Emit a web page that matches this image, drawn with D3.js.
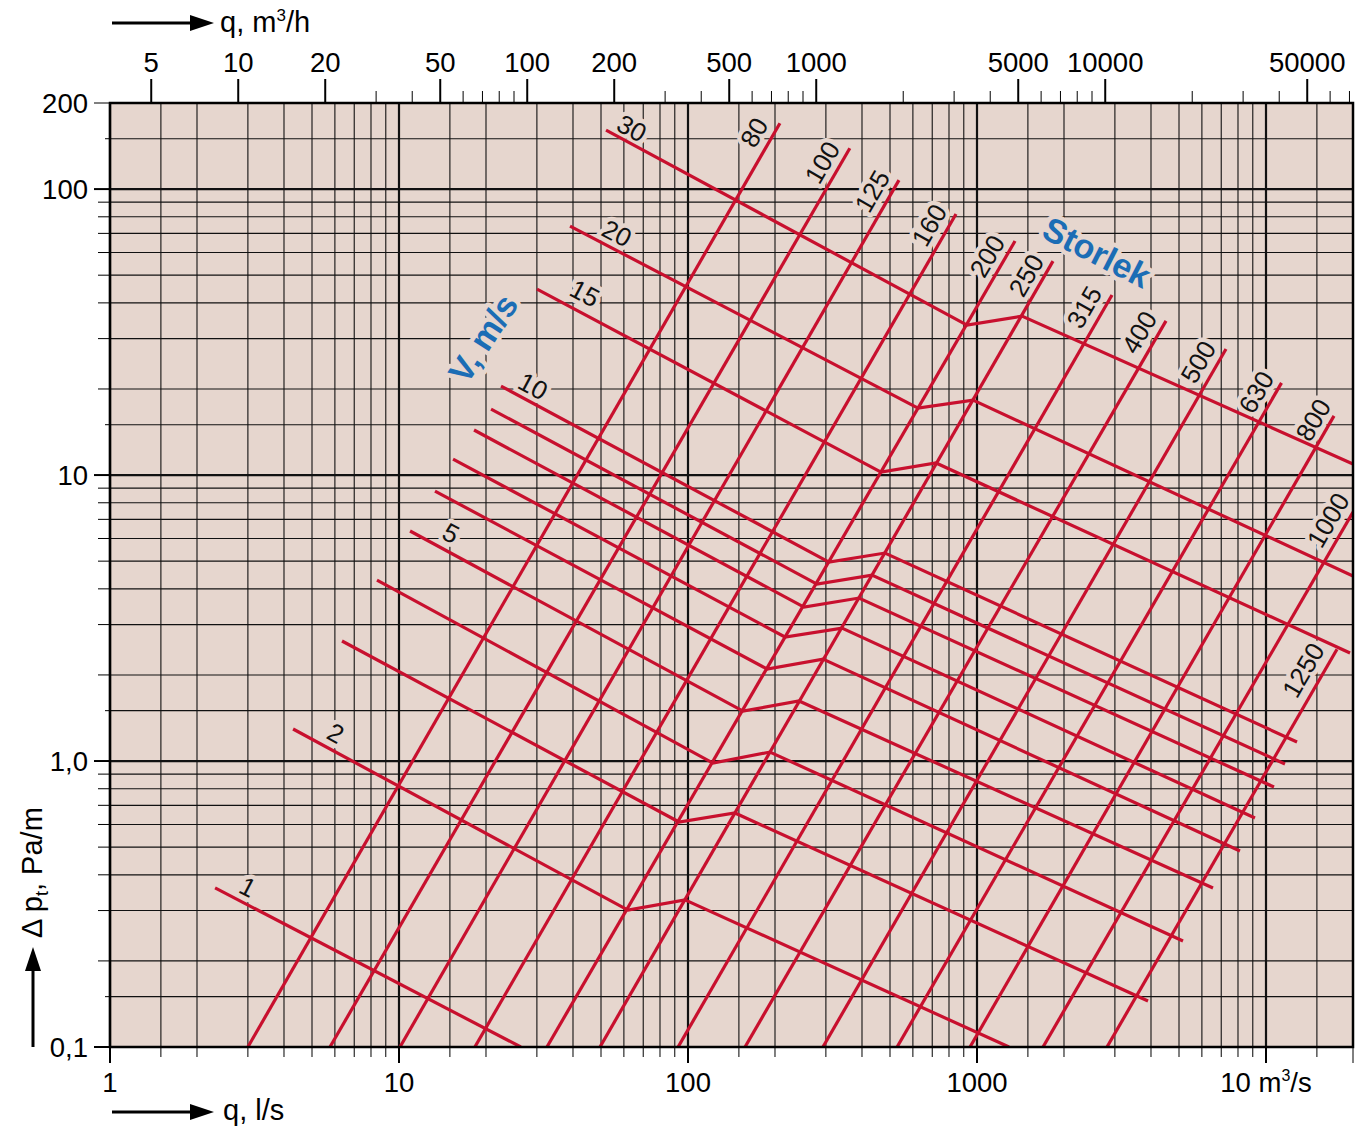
<!DOCTYPE html>
<html>
<head>
<meta charset="utf-8">
<script src="https://cdn.jsdelivr.net/npm/d3@7"></script>
<style>
body { margin: 0; background: #fff; }
svg { display: block; font-family: "Liberation Sans", Arial, Helvetica, sans-serif; }
</style>
</head>
<body>
<svg id="chart"></svg>
<script>

// q in l/s, pressure drop in Pa/m

var sizes = [80, 100, 125, 160, 200, 250, 315, 400, 500, 630, 800, 1000, 1250];
var sizeLines = [
    [[3.0, 0.1], [208, 170]],
    [[5.77, 0.1], [363, 139]],
    [[10.08, 0.1], [537, 107.5]],
    [[18.3, 0.1], [846, 81.8]],
    [[32.5, 0.1], [1354, 65.8]],
    [[49.6, 0.1], [1832, 56.0]],
    [[92.4, 0.1], [2932, 42.6]],
    [[157.5, 0.1], [4508, 34.6]],
    [[293, 0.1], [7271, 27.6]],
    [[529, 0.1], [11315, 21.0]],
    [[946, 0.1], [17190, 16.1]],
    [[1692, 0.1], [20000, 7.42]],
    [[2817, 0.1], [17606, 2.46]]
];
var sizeLabelPos = [[169, 158], [291, 124], [433, 98.4], [682, 74.8], [1083, 58.3], [1477, 50.0],
    [2346, 38.7], [3636, 31.6], [5817, 24.9], [9235, 19.5], [14544, 15.6], [16389, 6.96], [13427, 2.08]];

var speeds = [1, 2, 3, 4, 5, 6, 7, 8, 9, 10, 15, 20, 30];
var speedLines = [
    [[2.31, 0.360], [26.4, 0.1]],
    [[4.30, 1.294], [62.0, 0.301], [97.6, 0.327], [1291, 0.1]],
    [[6.35, 2.628], [93.1, 0.612], [145.4, 0.658], [3906, 0.1448]],
    [[8.39, 4.294], [122.0, 0.984], [192.2, 1.075], [5162, 0.2348]],
    [[10.92, 6.372], [155.0, 1.495], [242.2, 1.621], [6556, 0.3597]],
    [[13.32, 8.79], [187.7, 2.098], [293.2, 2.273], [8128, 0.4845]],
    [[15.38, 11.37], [216.6, 2.714], [341.1, 2.917], [9160, 0.632]],
    [[18.18, 14.37], [252.0, 3.455], [390.6, 3.715], [10659, 0.811]],
    [[20.82, 17.01], [279.5, 4.157], [433.1, 4.47], [11634, 0.976]],
    [[22.54, 20.47], [307.5, 4.964], [480.5, 5.337], [12804, 1.165]],
    [[30.02, 44.7], [465.4, 10.24], [721.5, 11.02], [19532, 2.386]],
    [[39.06, 74.24], [624.9, 17.15], [968.7, 18.29], [20000, 4.436]],
    [[52.04, 160.8], [923.6, 33.45], [1431, 35.96], [20000, 10.93]]
];
var speedLabels = [1, 2, 5, 10, 15, 20, 30];
var speedLabelPos = [[3.0, 0.363], [6.05, 1.253], [15.14, 6.27], [29.1, 20.5], [44.0, 43.3], [56.8, 70.2], [64.0, 163.4]];

var gridSteps = [1, 1.5, 2, 3, 4, 5, 6, 7, 8, 9];
var xTickVals = [1, 10, 100, 1000, 10000];
var xTickText = ["1", "10", "100", "1000", "10 m"];
var yTickVals = [0.1, 1, 10, 100, 200];
var yTickText = ["0,1", "1,0", "10", "100", "200"];
var topMajor = [5, 10, 20, 50, 100, 200, 500, 1000, 5000, 10000, 50000];
var topMinor = [30, 40, 60, 70, 80, 90, 300, 400, 600, 700, 800, 900, 2000, 3000, 4000,
    6000, 7000, 8000, 9000, 20000, 30000, 40000, 60000, 70000];

var bg = "#e6d6ce";
var red = "#c8102e";
var blue = "#1b6db5";

var x = d3.scaleLog().domain([1, 20000]).range([110, 1353]);
var y = d3.scaleLog().domain([0.1, 200]).range([1047, 103]);
var xTop = d3.scaleLog().domain([3.6, 72000]).range([110, 1353]);

var svg = d3.select("#chart").attr("width", 1355).attr("height", 1126);

var X0 = x.range()[0], X1 = x.range()[1], Y0 = y.range()[1], Y1 = y.range()[0];

svg.append("defs").append("clipPath").attr("id", "plotClip")
    .append("rect").attr("x", X0).attr("y", Y0).attr("width", X1 - X0).attr("height", Y1 - Y0);

svg.append("rect").attr("x", X0).attr("y", Y0).attr("width", X1 - X0).attr("height", Y1 - Y0)
    .attr("fill", bg);

var gridValues = function(lo, hi)
{
    var out = [];
    for (var d = lo; d < hi; d *= 10) {
        gridSteps.forEach(function(s) {
            var v = +(d * s).toPrecision(4);
            if (v <= hi * 1.0001) out.push({v: v, step: s});
        });
    }
    return out;
}

var xGrid = gridValues(1, 20000);
var yGrid = gridValues(0.1, 200);

var drawGrid = function()
{
    var g = svg.append("g").attr("id", "grid");
    g.selectAll("line.vx").data(xGrid).enter().append("line")
        .attr("x1", function(d) { return x(d.v); })
        .attr("x2", function(d) { return x(d.v); })
        .attr("y1", Y0).attr("y2", Y1)
        .attr("stroke", "#111")
        .attr("stroke-width", function(d) { return d.step == 1 ? 2.2 : 1.1; });
    g.selectAll("line.hy").data(yGrid).enter().append("line")
        .attr("y1", function(d) { return y(d.v); })
        .attr("y2", function(d) { return y(d.v); })
        .attr("x1", X0).attr("x2", X1)
        .attr("stroke", "#111")
        .attr("stroke-width", function(d) { return d.step == 1 ? 2.2 : 1.1; });
}

var angleOf = function(p0, p1)
{
    return Math.atan2(y(p1[1]) - y(p0[1]), x(p1[0]) - x(p0[0])) * 180 / Math.PI;
}

// all chart labels, drawn once as halo and once as text
var labels = [];
speedLabels.forEach(function(s, i) {
    var line = speedLines[speeds.indexOf(s)];
    labels.push({text: String(s), pos: speedLabelPos[i], angle: angleOf(line[0], line[1]), size: 26, color: "#111", bold: false});
});
sizes.forEach(function(s, i) {
    var line = sizeLines[i];
    labels.push({text: String(s), pos: sizeLabelPos[i], angle: angleOf(line[0], line[1]), size: 26, color: "#111", bold: false});
});
labels.push({text: "V, m/s", pos: [19.5, 30.1], angle: -57, size: 34, color: blue, bold: true});
labels.push({text: "Storlek", pos: [2602, 60.2], angle: 27, size: 34, color: blue, bold: true});

var drawLabels = function(halo)
{
    var g = svg.append("g");
    g.selectAll("text").data(labels).enter().append("text")
        .attr("transform", function(d) {
            return "translate(" + x(d.pos[0]) + "," + y(d.pos[1]) + ") rotate(" + d.angle + ")";
        })
        .attr("text-anchor", "middle")
        .attr("dy", "0.36em")
        .attr("font-size", function(d) { return d.size; })
        .attr("font-weight", function(d) { return d.bold ? "bold" : "normal"; })
        .attr("fill", function(d) { return halo ? bg : d.color; })
        .attr("stroke", halo ? bg : "none")
        .attr("stroke-width", halo ? 9 : 0)
        .attr("stroke-linejoin", "round")
        .text(function(d) { return d.text; });
}

var drawLines = function()
{
    var lineGen = d3.line()
        .x(function(d) { return x(d[0]); })
        .y(function(d) { return y(d[1]); });
    var g = svg.append("g").attr("clip-path", "url(#plotClip)");
    g.selectAll("path.size").data(sizeLines).enter().append("path")
        .attr("d", lineGen)
        .attr("fill", "none").attr("stroke", red).attr("stroke-width", 3.2);
    g.selectAll("path.speed").data(speedLines).enter().append("path")
        .attr("d", lineGen)
        .attr("fill", "none").attr("stroke", red).attr("stroke-width", 3.2)
        .attr("stroke-linejoin", "miter");
}

var drawAxes = function()
{
    var g = svg.append("g").attr("stroke", "#000");

    // frame
    g.append("rect").attr("x", X0).attr("y", Y0).attr("width", X1 - X0).attr("height", Y1 - Y0)
        .attr("fill", "none").attr("stroke-width", 2.5);

    // left ticks
    g.selectAll("line.ly").data(yGrid).enter().append("line")
        .attr("y1", function(d) { return y(d.v); })
        .attr("y2", function(d) { return y(d.v); })
        .attr("x1", function(d) {
            if (yTickVals.indexOf(d.v) >= 0) return X0 - 16;
            return d.step == 1.5 ? X0 - 5 : X0 - 12;
        })
        .attr("x2", X0)
        .attr("stroke-width", function(d) { return d.step == 1 ? 2 : 1; });

    // bottom ticks
    g.selectAll("line.bx").data(xGrid).enter().append("line")
        .attr("x1", function(d) { return x(d.v); })
        .attr("x2", function(d) { return x(d.v); })
        .attr("y1", Y1)
        .attr("y2", function(d) { return d.step == 1 || d.v == 20000 ? Y1 + 16 : Y1 + 10; })
        .attr("stroke-width", function(d) { return d.step == 1 ? 2 : 1; });

    // top ticks, m3/h
    g.selectAll("line.tmaj").data(topMajor).enter().append("line")
        .attr("x1", function(d) { return xTop(d); })
        .attr("x2", function(d) { return xTop(d); })
        .attr("y1", Y0 - 24).attr("y2", Y0)
        .attr("stroke-width", 2);
    g.selectAll("line.tmin").data(topMinor).enter().append("line")
        .attr("x1", function(d) { return xTop(d); })
        .attr("x2", function(d) { return xTop(d); })
        .attr("y1", Y0 - 12).attr("y2", Y0)
        .attr("stroke-width", 1);

    var t = svg.append("g").attr("font-size", 27.5).attr("fill", "#000");

    t.selectAll("text.yl").data(yTickVals).enter().append("text")
        .attr("x", X0 - 22)
        .attr("y", function(d) { return y(d); })
        .attr("dy", "0.36em")
        .attr("text-anchor", "end")
        .text(function(d, i) { return yTickText[i]; });

    var xl = t.selectAll("text.xl").data(xTickVals).enter().append("text")
        .attr("x", function(d) { return x(d); })
        .attr("y", Y1 + 45)
        .attr("text-anchor", "middle")
        .text(function(d, i) { return xTickText[i]; });
    xl.filter(function(d) { return d == 10000; }).each(function() {
        var el = d3.select(this);
        el.append("tspan").attr("font-size", 16).attr("dy", -11).text("3");
        el.append("tspan").attr("dy", 11).text("/s");
    });

    t.selectAll("text.tl").data(topMajor).enter().append("text")
        .attr("x", function(d) { return xTop(d); })
        .attr("y", 72)
        .attr("text-anchor", "middle")
        .text(function(d) { return d; });

    // axis titles
    var tt = svg.append("g").attr("font-size", 29).attr("fill", "#000");
    var top = tt.append("text").attr("x", 220).attr("y", 32).text("q, m");
    top.append("tspan").attr("font-size", 17).attr("dy", -11).text("3");
    top.append("tspan").attr("dy", 11).text("/h");

    tt.append("text").attr("x", 223).attr("y", 1120).text("q, l/s");

    var left = tt.append("text").attr("transform", "translate(42,938) rotate(-90)").text("\u0394 p");
    left.append("tspan").attr("font-size", 18).attr("dy", 6).text("t");
    left.append("tspan").attr("dy", -6).text(", Pa/m");

    // arrows
    var a = svg.append("g");
    a.append("line").attr("x1", 112).attr("x2", 196).attr("y1", 23).attr("y2", 23)
        .attr("stroke", "#000").attr("stroke-width", 3);
    a.append("path").attr("d", "M190,15 L214,23 L190,31 Z").attr("fill", "#000");
    a.append("line").attr("x1", 112).attr("x2", 196).attr("y1", 1112).attr("y2", 1112)
        .attr("stroke", "#000").attr("stroke-width", 3);
    a.append("path").attr("d", "M190,1104 L214,1112 L190,1120 Z").attr("fill", "#000");
    a.append("line").attr("x1", 33).attr("x2", 33).attr("y1", 1047).attr("y2", 965)
        .attr("stroke", "#000").attr("stroke-width", 3);
    a.append("path").attr("d", "M25,971 L33,947 L41,971 Z").attr("fill", "#000");
}

drawGrid();
drawLabels(true);
drawLines();
drawLabels(false);
drawAxes();

</script>
</body>
</html>
